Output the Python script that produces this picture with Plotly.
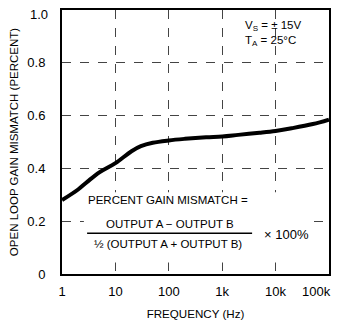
import plotly.graph_objects as go

freq_hz = [1, 2, 3, 5, 10, 20, 30, 50, 100, 200, 500, 1000, 2000, 5000, 10000, 20000, 50000, 100000]
gain_mismatch_pct = [0.28, 0.32, 0.35, 0.385, 0.42, 0.465, 0.484, 0.497, 0.506, 0.512, 0.518, 0.521, 0.527, 0.535, 0.542, 0.552, 0.568, 0.585]

x_tick_vals = [1, 10, 100, 1000, 10000, 100000]
x_tick_text = ["1", "10", "100", "1k", "10k", "100k"]
y_tick_vals = [0, 0.2, 0.4, 0.6, 0.8, 1.0]
y_tick_text = ["0", "0.2", "0.4", "0.6", "0.8", "1.0"]

REG = "Liberation Sans, Arial, sans-serif"
TICK_FONT = dict(family=REG, size=13, color="black")

fig = go.Figure()
fig.add_trace(go.Scatter(x=freq_hz, y=gain_mismatch_pct, mode="lines",
                         line=dict(color="black", width=4, shape="spline"),
                         hoverinfo="skip", showlegend=False))

# white panel behind the formula (hides grid lines)
fig.add_shape(type="rect", xref="paper", yref="paper", x0=0.082, x1=0.94, y0=0.044, y1=0.31,
              fillcolor="white", line=dict(width=0), layer="above")
# fraction bar
fig.add_shape(type="line", xref="paper", yref="paper", x0=0.094, x1=0.712, y0=0.154, y1=0.154,
              line=dict(color="black", width=1.5), layer="above")

ann_font = dict(family=REG, size=11.5, color="black")
fig.add_annotation(text="PERCENT GAIN MISMATCH =", xref="paper", yref="paper", x=0.397, y=0.2795,
                   showarrow=False, font=ann_font, xanchor="center", yanchor="middle")
fig.add_annotation(text="OUTPUT A − OUTPUT B", xref="paper", yref="paper", x=0.406, y=0.19,
                   showarrow=False, font=ann_font, xanchor="center", yanchor="middle")
fig.add_annotation(text="½ (OUTPUT A + OUTPUT B)", xref="paper", yref="paper", x=0.397, y=0.113,
                   showarrow=False, font=ann_font, xanchor="center", yanchor="middle")
fig.add_annotation(text="× 100%", xref="paper", yref="paper", x=0.839, y=0.151,
                   showarrow=False, font=dict(family=REG, size=13, color="black"),
                   xanchor="center", yanchor="middle")
fig.add_annotation(text="V<sub>S</sub> = ± 15V<br>T<sub>A</sub> = 25°C", xref="paper", yref="paper",
                   x=0.678, y=0.91, align="left",
                   showarrow=False, font=ann_font, xanchor="left", yanchor="middle")

# edge tick labels drawn as annotations, nudged inward so they fit on the page
fig.add_annotation(text=y_tick_text[-1], xref="paper", yref="y", x=0, y=y_tick_vals[-1],
                   xanchor="right", yanchor="middle", xshift=-12, yshift=-4,
                   showarrow=False, font=TICK_FONT)
fig.add_annotation(text=x_tick_text[-1], xref="x", yref="paper", x=5, y=0,
                   xanchor="right", yanchor="middle", xshift=4, yshift=-17,
                   showarrow=False, font=TICK_FONT)

# page body has an 8px default margin, so the figure is sized/offset to compensate
fig.update_layout(
    width=326, height=321,
    margin=dict(l=54, r=5, t=2, b=55),
    paper_bgcolor="white", plot_bgcolor="white",
    font=dict(family=REG, size=13, color="black"),
    showlegend=False,
)
fig.update_xaxes(type="log", range=[-0.001, 5.001], tickvals=x_tick_vals[:-1], ticktext=x_tick_text[:-1],
                 showline=True, linecolor="black", linewidth=2, mirror=True,
                 showgrid=True, gridcolor="#444", gridwidth=1, griddash="dash",
                 ticks="", ticklabelstandoff=4, zeroline=False, automargin=False,
                 title=dict(text="FREQUENCY (Hz)", font=dict(family=REG, size=11.6), standoff=12),
                 tickfont=TICK_FONT)
fig.update_yaxes(range=[0, 1], tickvals=y_tick_vals[:-1], ticktext=y_tick_text[:-1],
                 showline=True, linecolor="black", linewidth=2, mirror=True,
                 showgrid=True, gridcolor="#444", gridwidth=1, griddash="dash",
                 ticks="", ticklabelstandoff=12, zeroline=False, automargin=False,
                 title=dict(text="OPEN LOOP GAIN MISMATCH (PERCENT)", font=dict(family=REG, size=11.5), standoff=10),
                 tickfont=TICK_FONT)

fig.write_html("out.html")
